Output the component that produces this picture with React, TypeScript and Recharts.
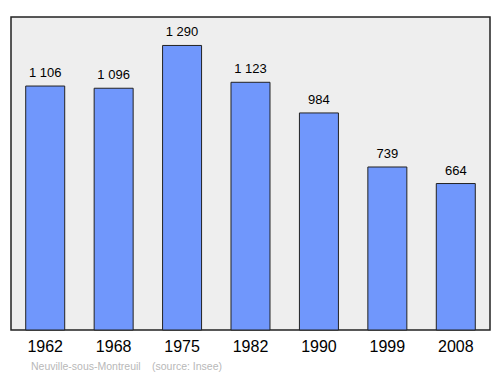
import { BarChart, Bar, XAxis, YAxis, LabelList, ReferenceArea } from 'recharts'

const years = ['1962', '1968', '1975', '1982', '1990', '1999', '2008']
const population = [1106, 1096, 1290, 1123, 984, 739, 664]

const chartData = years.map((year, i) => ({ year, population: population[i] }))

// espace comme séparateur de milliers
const fmt = (v: any) => String(v).replace(/\B(?=(\d{3})+(?!\d))/g, ' ')

export default function App() {
  return (
    <div style={{ position: 'absolute', left: 0, top: 0, width: 500, height: 374, background: '#fff', fontFamily: 'Liberation Sans, Arial, sans-serif' }}>
      <BarChart
        width={500}
        height={374}
        data={chartData}
        margin={{ top: 17, right: 7, left: 5, bottom: 0 }}
        barCategoryGap="21.5%"
      >
        <ReferenceArea y1={0} y2={1419} fill="#eeeeee" fillOpacity={1} stroke="#222" strokeWidth={1.5} />
        <XAxis
          dataKey="year"
          height={44}
          axisLine={false}
          tickLine={false}
          padding={{ left: 6, right: 3 }}
          tick={{ fill: '#000', fontSize: 16 }}
          tickMargin={5}
        />
        <YAxis hide domain={[0, 1419]} />
        <Bar dataKey="population" fill="#7097fc" stroke="#222" strokeWidth={1} isAnimationActive={false}>
          <LabelList dataKey="population" position="top" offset={9} formatter={fmt} style={{ fill: '#000', fontSize: 13 }} />
        </Bar>
      </BarChart>
      <span style={{ position: 'absolute', left: 31, top: 360, fontSize: 10.5, color: '#b8b8b8', whiteSpace: 'nowrap' }}>
        Neuville-sous-Montreuil
      </span>
      <span style={{ position: 'absolute', left: 152, top: 360, fontSize: 10.5, color: '#b8b8b8', whiteSpace: 'nowrap' }}>
        (source: Insee)
      </span>
    </div>
  )
}
